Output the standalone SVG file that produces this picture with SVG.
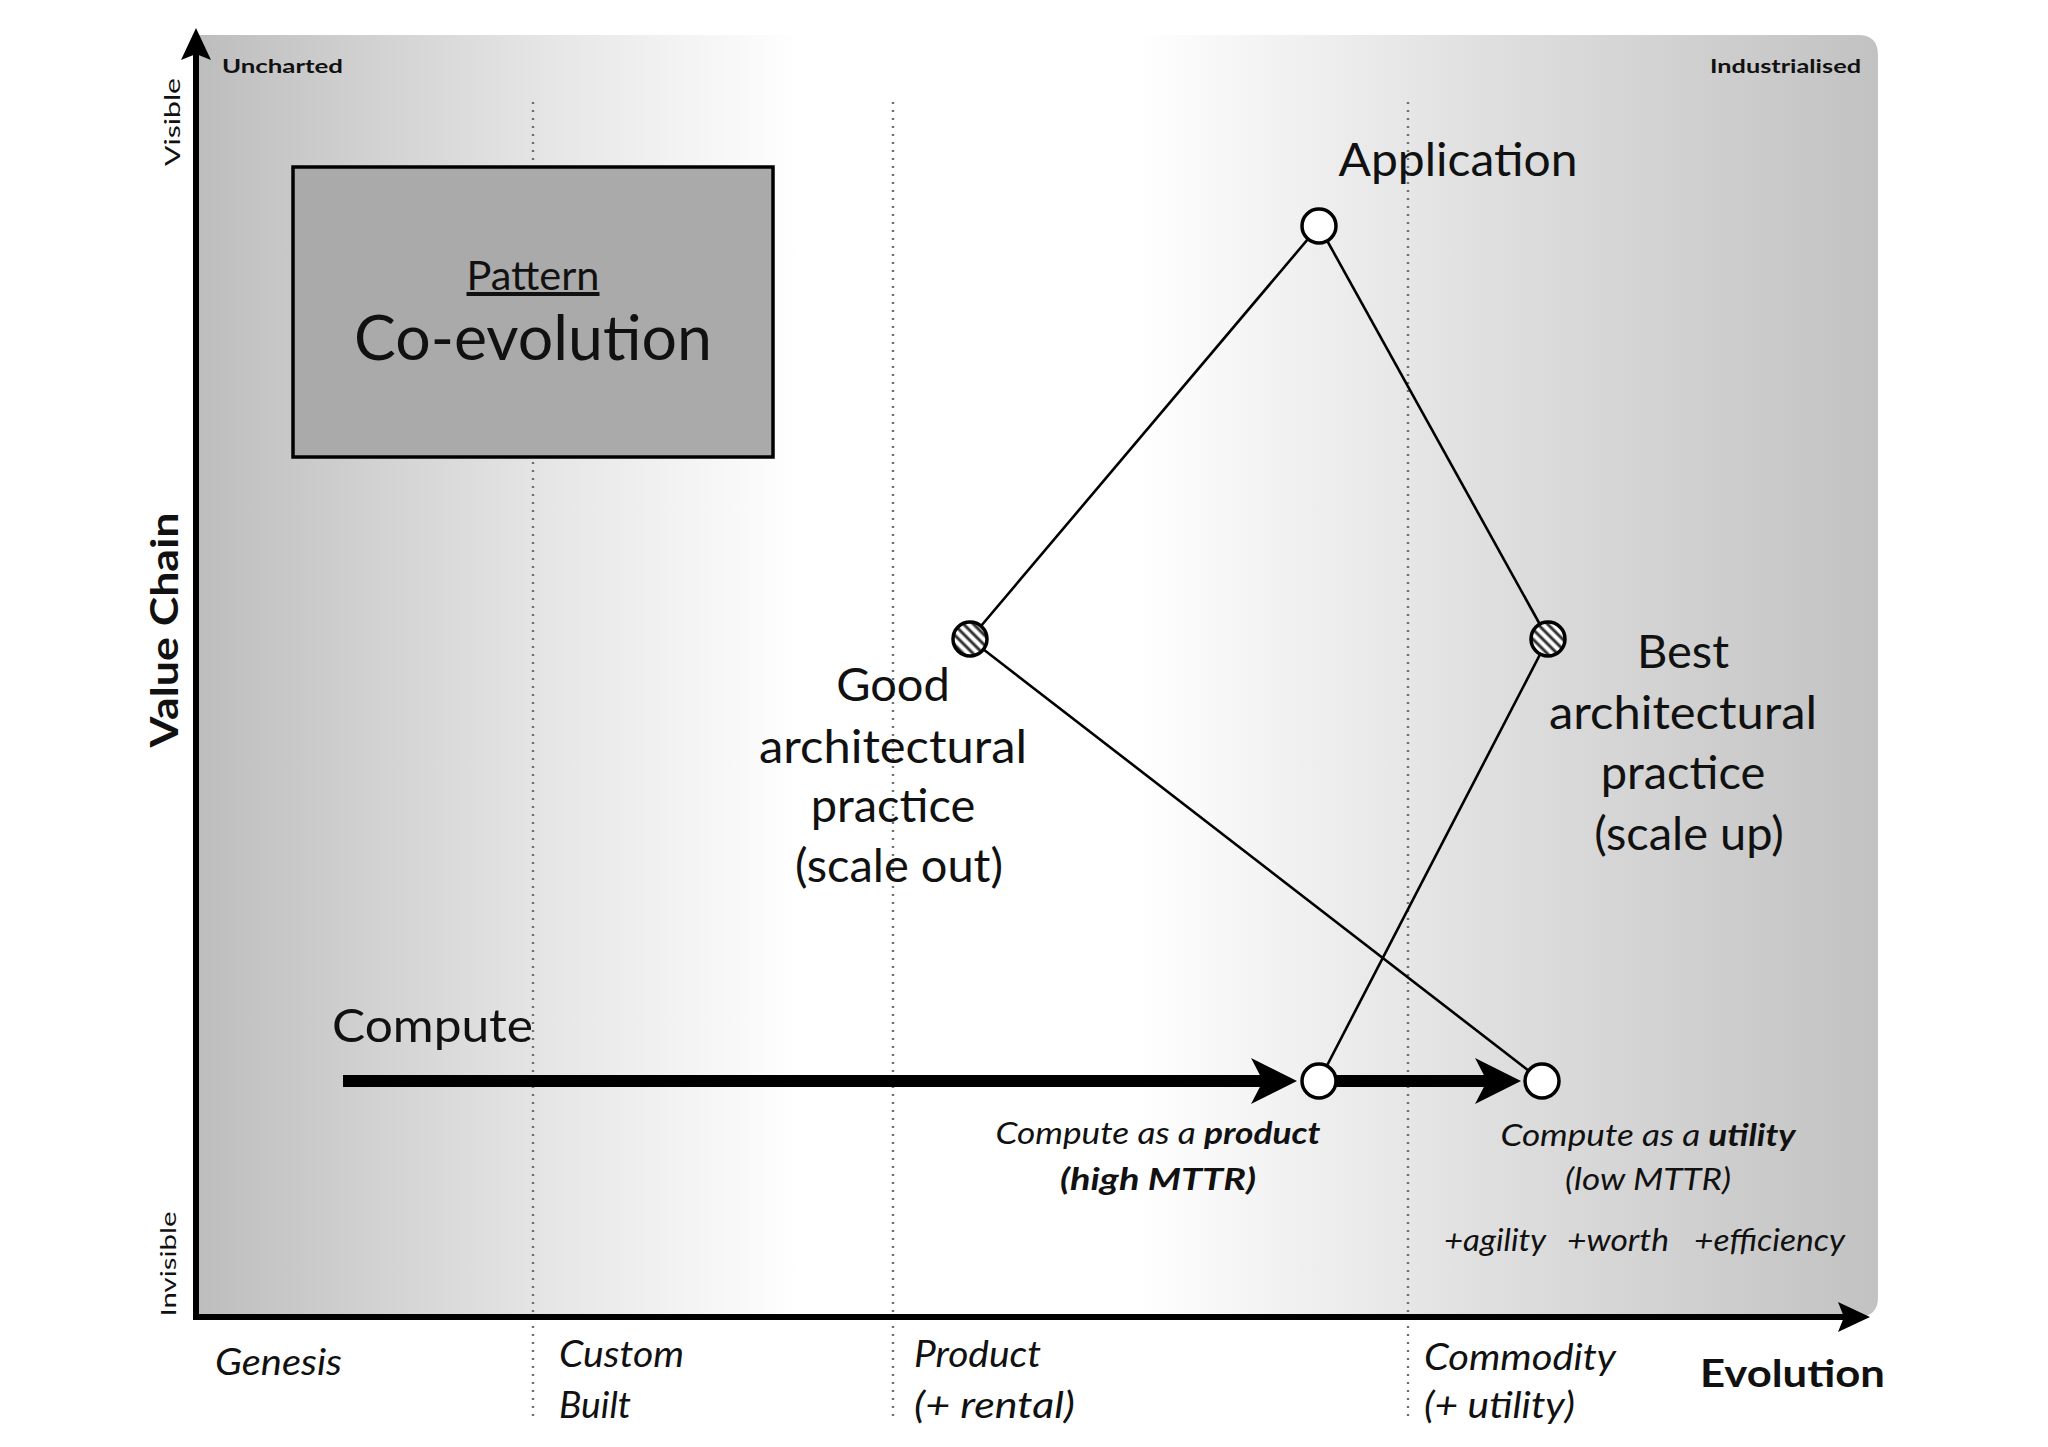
<svg xmlns="http://www.w3.org/2000/svg" width="2048" height="1447" viewBox="0 0 2048 1447">
<defs>
<linearGradient id="bg" gradientUnits="userSpaceOnUse" x1="196" y1="0" x2="1878" y2="0">
<stop offset="0" stop-color="#bdbdbd"/>
<stop offset="0.2" stop-color="#e4e4e4"/>
<stop offset="0.36" stop-color="#ffffff"/>
<stop offset="0.56" stop-color="#ffffff"/>
<stop offset="0.76" stop-color="#e0e0e0"/>
<stop offset="1" stop-color="#c2c2c2"/>
</linearGradient>
<pattern id="hatch" patternUnits="userSpaceOnUse" width="7" height="7" patternTransform="rotate(-45)">
<rect width="7" height="7" fill="#ffffff"/>
<line x1="2" y1="0" x2="2" y2="7" stroke="#333" stroke-width="3"/>
</pattern>
<marker id="thick" markerUnits="userSpaceOnUse" markerWidth="46" markerHeight="46" viewBox="0 0 46 46" refX="14" refY="23" orient="auto">
<path d="M0,0 L46,23 L0,46 L12,23 Z" fill="#000"/>
</marker>
<marker id="axis" markerUnits="userSpaceOnUse" markerWidth="32" markerHeight="30" viewBox="0 0 32 30" refX="8" refY="15" orient="auto">
<path d="M0,0 L32,15 L0,30 L6,15 Z" fill="#000"/>
</marker>
</defs>
<style>
.t{font-family:Lato,"Open Sans","Liberation Sans",sans-serif;fill:#111}
.b{font-weight:bold}
.i{font-style:italic}
.dot{stroke:#6f6f6f;stroke-width:2.4;stroke-dasharray:2 6;fill:none}
.edge{stroke:#000;stroke-width:2.6;fill:none}
.flow{stroke:#000;stroke-width:12;fill:none}
.node{fill:#fff;stroke:#000;stroke-width:3.5}
.hat{fill:url(#hatch);stroke:#000;stroke-width:3.5}
</style>
<rect x="0" y="0" width="2048" height="1447" fill="#fff"/>
<g id="background">
<path d="M196,35 H1858 Q1878,35 1878,55 V1297 Q1878,1317 1858,1317 H196 Z" fill="url(#bg)"/>
</g>
<g id="stage-lines">
<line class="dot" x1="533" y1="102" x2="533" y2="1418"/>
<line class="dot" x1="893" y1="102" x2="893" y2="1418"/>
<line class="dot" x1="1408" y1="102" x2="1408" y2="1418"/>
</g>
<g id="axes">
<line x1="196" y1="1317" x2="196" y2="52" stroke="#000" stroke-width="6" marker-end="url(#axis)"/>
<line x1="193" y1="1317" x2="1846" y2="1317" stroke="#000" stroke-width="6" marker-end="url(#axis)"/>
<text class="t b" x="222" y="73" font-size="18" textLength="121" lengthAdjust="spacingAndGlyphs">Uncharted</text>
<text class="t b" x="1861" y="73" font-size="18" text-anchor="end" textLength="151" lengthAdjust="spacingAndGlyphs">Industrialised</text>
<text class="t" transform="translate(180,122) rotate(-90)" font-size="22" text-anchor="middle" textLength="88" lengthAdjust="spacingAndGlyphs">Visible</text>
<text class="t b" transform="translate(178,630) rotate(-90)" font-size="38" text-anchor="middle" textLength="235" lengthAdjust="spacingAndGlyphs">Value Chain</text>
<text class="t" transform="translate(176,1264) rotate(-90)" font-size="22" text-anchor="middle" textLength="105" lengthAdjust="spacingAndGlyphs">Invisible</text>
<text class="t i" x="215" y="1375" font-size="36" textLength="127" lengthAdjust="spacingAndGlyphs">Genesis</text>
<text class="t i" x="559" y="1367" font-size="36" textLength="125" lengthAdjust="spacingAndGlyphs">Custom</text>
<text class="t i" x="559" y="1418" font-size="36" textLength="72" lengthAdjust="spacingAndGlyphs">Built</text>
<text class="t i" x="914" y="1367" font-size="36" textLength="127" lengthAdjust="spacingAndGlyphs">Product</text>
<text class="t i" x="914" y="1418" font-size="36" textLength="161" lengthAdjust="spacingAndGlyphs">(+ rental)</text>
<text class="t i" x="1424" y="1370" font-size="36" textLength="192" lengthAdjust="spacingAndGlyphs">Commodity</text>
<text class="t i" x="1424" y="1418" font-size="36" textLength="151" lengthAdjust="spacingAndGlyphs">(+ utility)</text>
<text class="t b" x="1700" y="1387" font-size="38" textLength="185" lengthAdjust="spacingAndGlyphs">Evolution</text>
</g>
<g id="pattern-box">
<rect x="293" y="167" width="480" height="290" fill="#aaaaaa" stroke="#000" stroke-width="3.5"/>
<text class="t" x="533" y="290" font-size="40" text-anchor="middle" text-decoration="underline" textLength="133" lengthAdjust="spacingAndGlyphs">Pattern</text>
<text class="t" x="533" y="360" font-size="62" text-anchor="middle" textLength="358" lengthAdjust="spacingAndGlyphs">Co-evolution</text>
</g>
<g id="connectors">
<line class="edge" x1="1319" y1="226" x2="970" y2="639"/>
<line class="edge" x1="1319" y1="226" x2="1548" y2="639"/>
<line class="edge" x1="970" y1="639" x2="1542" y2="1081"/>
<line class="edge" x1="1548" y1="639" x2="1319" y2="1081"/>
<line class="flow" x1="343" y1="1081" x2="1265" y2="1081" marker-end="url(#thick)"/>
<line class="flow" x1="1334" y1="1081" x2="1489" y2="1081" marker-end="url(#thick)"/>
</g>
<g id="node-application">
<circle class="node" cx="1319" cy="226" r="17"/>
<text class="t" x="1458" y="176" font-size="47" text-anchor="middle" textLength="239" lengthAdjust="spacingAndGlyphs">Application</text>
</g>
<g id="node-good">
<circle class="hat" cx="970" cy="639" r="17"/>
<text class="t" font-size="47" text-anchor="middle">
<tspan x="899" y="701">Good</tspan>
<tspan x="899" y="763" textLength="268" lengthAdjust="spacingAndGlyphs">architectural</tspan>
<tspan x="899" y="822">practice</tspan>
<tspan x="899" y="882">(scale out)</tspan>
</text>
</g>
<g id="node-best">
<circle class="hat" cx="1548" cy="639" r="17"/>
<text class="t" font-size="47" text-anchor="middle">
<tspan x="1689" y="668">Best</tspan>
<tspan x="1689" y="729" textLength="268" lengthAdjust="spacingAndGlyphs">architectural</tspan>
<tspan x="1689" y="789">practice</tspan>
<tspan x="1689" y="850">(scale up)</tspan>
</text>
</g>
<g id="node-compute">
<text class="t" x="332" y="1042" font-size="47" textLength="201" lengthAdjust="spacingAndGlyphs">Compute</text>
</g>
<g id="node-product">
<circle class="node" cx="1319" cy="1081" r="17"/>
<text class="t i" x="1158" y="1144" font-size="31" text-anchor="middle" textLength="325" lengthAdjust="spacingAndGlyphs">Compute as a <tspan class="b">product</tspan></text>
<text class="t i b" x="1158" y="1190" font-size="31" text-anchor="middle" textLength="196" lengthAdjust="spacingAndGlyphs">(high MTTR)</text>
</g>
<g id="node-utility">
<circle class="node" cx="1542" cy="1081" r="17"/>
<text class="t i" x="1648" y="1146" font-size="31" text-anchor="middle" textLength="295" lengthAdjust="spacingAndGlyphs">Compute as a <tspan class="b">utility</tspan></text>
<text class="t i" x="1648" y="1190" font-size="31" text-anchor="middle" textLength="166" lengthAdjust="spacingAndGlyphs">(low MTTR)</text>
<text class="t i" font-size="31"><tspan x="1444" y="1251" textLength="102" lengthAdjust="spacingAndGlyphs">+agility</tspan><tspan x="1567" y="1251" textLength="102" lengthAdjust="spacingAndGlyphs">+worth</tspan><tspan x="1694" y="1251" textLength="151" lengthAdjust="spacingAndGlyphs">+efficiency</tspan></text>
</g>
</svg>
